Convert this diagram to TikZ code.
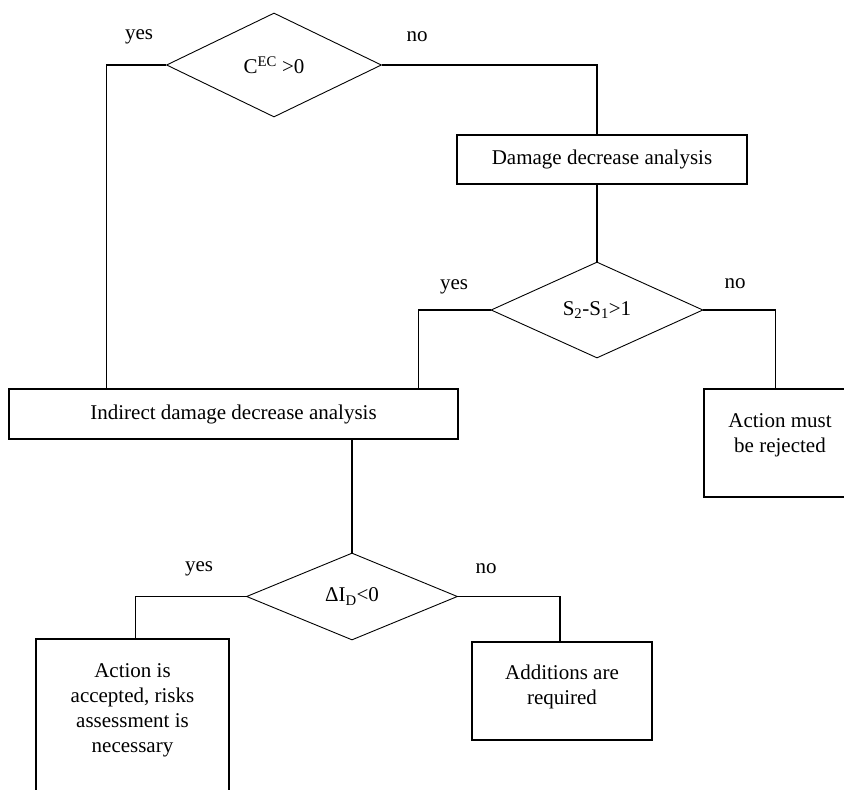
\documentclass[tikz,border=0pt]{standalone}
\usepackage{fontspec}
\setmainfont{Liberation Serif}
\usetikzlibrary{shapes.geometric}

\begin{document}
\begin{tikzpicture}[x=1pt, y=-1pt,
    every node/.style={font=\fontsize{21}{25}\selectfont},
    decision/.style={diamond, draw, line width=0.9pt, inner sep=0pt},
    block/.style={rectangle, draw, line width=1.2pt, inner sep=0pt},
    edge/.style={line width=1.6pt}]
    \useasboundingbox (0,0) rectangle (844,790);
    \clip (0,0) rectangle (844,790);

    % Draw nodes
    \node[decision, minimum width=215pt, minimum height=104pt] (d1) at (274, 65) {C\textsuperscript{EC} >0};
    \node[block, minimum width=290pt, minimum height=49pt] (dmg) at (602, 159.5) {Damage decrease analysis};
    \node[decision, minimum width=212pt, minimum height=96pt] (d2) at (597, 310) {S\textsubscript{2}-S\textsubscript{1}>1};
    \node[block, minimum width=449pt, minimum height=50pt] (ind) at (233.5, 414) {Indirect damage decrease analysis};
    \node[block, minimum width=152pt, minimum height=108pt] (rej) at (780, 443) {};
    \node[align=center] (rejtext) at ([yshift=-47pt]rej.north) {Action must\\be rejected};
    \node[decision, minimum width=211pt, minimum height=87pt] (d3) at (352, 596.5) {ΔI\textsubscript{D}<0};
    \node[block, minimum width=193pt, minimum height=181pt] (acc) at (132.5, 729.5) {};
    \node[align=center] (acctext) at ([yshift=-72pt]acc.north) {Action is\\accepted, risks\\assessment is\\necessary};
    \node[block, minimum width=180pt, minimum height=98pt] (add) at (562, 691) {};
    \node[align=center] (addtext) at ([yshift=-46pt]add.north) {Additions are\\required};

    % Draw labels
    \node (yes1) at (139, 37) {yes};
    \node (no1) at (417, 37) {no};
    \node (yes2) at (454, 287) {yes};
    \node (no2) at (735, 284) {no};
    \node (yes3) at (199, 569) {yes};
    \node (no3) at (486, 569) {no};

    % Draw edges
    \draw[edge] (d1.west) -| ([xshift=98pt]ind.north west);
    \draw[edge] (d1.east) -| ([xshift=-5pt]dmg.north);
    \draw[edge] (dmg.south -| d2.north) -- (d2.north);
    \draw[edge] (d2.west) -| ([xshift=-40pt]ind.north east);
    \draw[edge] (d2.east) -| ([xshift=72pt]rej.north west);
    \draw[edge] (ind.south -| d3.north) -- (d3.north);
    \draw[edge] (d3.west) -| ([xshift=100pt]acc.north west);
    \draw[edge] (d3.east) -| ([xshift=-2pt]add.north);
\end{tikzpicture}
\end{document}
